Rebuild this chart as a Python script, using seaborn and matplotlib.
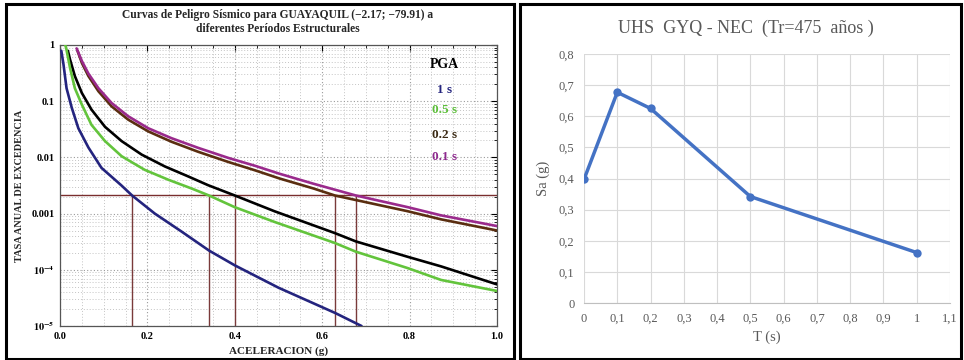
import numpy as np
import pandas as pd
import matplotlib
matplotlib.use("Agg")
import matplotlib.pyplot as plt
import matplotlib.ticker as mticker
from matplotlib.patches import Rectangle
import seaborn as sns

# ---------------- data: hazard curves (left) ----------------
x_pga = [0.018, 0.023, 0.034, 0.05, 0.072, 0.103, 0.141, 0.187, 0.24, 0.293, 0.339, 0.40, 0.491, 0.629, 0.677, 0.796, 0.872, 1.0]
y_pga = [0.79, 0.55, 0.28, 0.14, 0.071, 0.035, 0.0195, 0.0112, 0.0069, 0.0046, 0.0032, 0.0021, 0.0011, 4.5e-4, 3.2e-4, 1.7e-4, 1.15e-4, 5.5e-5]

x_1s = [0.003, 0.008, 0.015, 0.027, 0.042, 0.065, 0.095, 0.14, 0.165, 0.217, 0.278, 0.341, 0.40, 0.50, 0.63, 0.69]
y_1s = [0.79, 0.45, 0.17, 0.076, 0.033, 0.015, 0.0065, 0.0032, 0.0021, 0.001, 4.8e-4, 2.2e-4, 1.2e-4, 4.8e-5, 1.7e-5, 1.0e-5]

x_05s = [0.012, 0.014, 0.023, 0.034, 0.05, 0.072, 0.103, 0.141, 0.194, 0.248, 0.301, 0.341, 0.40, 0.491, 0.629, 0.677, 0.796, 0.872, 1.0]
y_05s = [1.0, 0.89, 0.39, 0.17, 0.087, 0.038, 0.0195, 0.0105, 0.006, 0.004, 0.0028, 0.0021, 0.0013, 7.1e-4, 3.0e-4, 2.1e-4, 1.07e-4, 6.6e-5, 4.2e-5]

x_02s = [0.04, 0.05, 0.065, 0.088, 0.118, 0.156, 0.202, 0.255, 0.316, 0.385, 0.446, 0.503, 0.58, 0.629, 0.796, 0.872, 1.0]
y_02s = [0.79, 0.48, 0.28, 0.15, 0.081, 0.047, 0.029, 0.019, 0.0126, 0.0083, 0.0059, 0.0042, 0.0028, 0.0021, 0.0011, 7.9e-4, 5.0e-4]

x_01s = [0.038, 0.05, 0.065, 0.088, 0.118, 0.156, 0.202, 0.255, 0.316, 0.385, 0.446, 0.503, 0.58, 0.677, 0.796, 0.872, 1.0]
y_01s = [0.87, 0.52, 0.31, 0.17, 0.093, 0.054, 0.033, 0.022, 0.0148, 0.0098, 0.0071, 0.0051, 0.0034, 0.0021, 0.0013, 9.3e-4, 6.0e-4]

curve_names = ["PGA", "1 s", "0.5 s", "0.2 s", "0.1 s"]
curve_colors = ["#000000", "#24247e", "#63c43c", "#5a2e10", "#9a2a8c"]
label_colors = ["#000000", "#24247e", "#5cbf3a", "#3b2a14", "#8e2a8e"]

rate_475 = 0.0021
drop_x = [0.165, 0.341, 0.40, 0.629, 0.677]

# ---------------- data: UHS (right) ----------------
T_vals = [0.0, 0.1, 0.2, 0.5, 1.0]
Sa_vals = [0.397, 0.677, 0.625, 0.342, 0.162]

# ---------------- build ----------------
sns.set_theme(style="white")
plt.rcParams["font.family"] = ["Liberation Serif", "DejaVu Serif"]
plt.rcParams["mathtext.fontset"] = "stix"

W, H = 964, 360
fig = plt.figure(figsize=(W / 100, H / 100), dpi=100)
fig.patch.set_facecolor("white")

def fx(px):
    return px / W

def fy(py):
    return 1 - py / H

# panel frames
for (x0, y0, x1, y1) in [(6, 4, 514, 359), (520, 4, 961, 359)]:
    fig.add_artist(Rectangle((fx(x0), fy(y1)), fx(x1) - fx(x0), fy(y0) - fy(y1),
                             transform=fig.transFigure, fill=False,
                             edgecolor="black", linewidth=2.2))

# ---------- left panel ----------
axL = fig.add_axes([fx(60), fy(326), fx(497) - fx(60), fy(45) - fy(326)])
frames = []
for name, xs, ys in zip(curve_names,
                        [x_pga, x_1s, x_05s, x_02s, x_01s],
                        [y_pga, y_1s, y_05s, y_02s, y_01s]):
    frames.append(pd.DataFrame({"acc": xs, "rate": ys, "curve": name}))
df = pd.concat(frames, ignore_index=True)

axL.set_yscale("log")
axL.set_xlim(0, 1.0)
axL.set_ylim(1e-5, 1)

# grid
axL.xaxis.set_major_locator(mticker.MultipleLocator(0.2))
axL.xaxis.set_minor_locator(mticker.MultipleLocator(0.05))
axL.yaxis.set_major_locator(mticker.LogLocator(base=10, numticks=10))
axL.yaxis.set_minor_locator(mticker.LogLocator(base=10, subs=np.arange(2, 10), numticks=10))
axL.grid(which="major", color="#9a9a9a", linestyle=(0, (1, 2)), linewidth=0.8)
axL.grid(which="minor", color="#c4c4c4", linestyle=(0, (1, 2)), linewidth=0.7)
axL.set_axisbelow(True)

# 475-year return period lines
axL.axhline(rate_475, color="#7a2e2e", linewidth=1.0, zorder=2)
axL.vlines(drop_x, 1e-5, rate_475, color="#7a3a3a", linewidth=1.0, zorder=2)

sns.lineplot(data=df, x="acc", y="rate", hue="curve", hue_order=curve_names,
             palette=dict(zip(curve_names, curve_colors)), estimator=None,
             sort=False, linewidth=1.9, legend=False, ax=axL, zorder=3)

axL.set_xlabel("ACELERACION (g)", fontsize=8, fontweight="bold", labelpad=4)
axL.set_ylabel("TASA ANUAL DE EXCEDENCIA", fontsize=7.4, fontweight="bold", labelpad=5)
axL.xaxis.set_major_formatter(mticker.FormatStrFormatter("%.1f"))
ylab = {1: "1", 0.1: "0.1", 0.01: "0.01", 0.001: "0.001",
        1e-4: r"$\mathbf{10^{-4}}$", 1e-5: r"$\mathbf{10^{-5}}$"}
axL.set_yticks(list(ylab.keys()))
axL.set_yticklabels(list(ylab.values()))
for lab in axL.get_xticklabels() + axL.get_yticklabels():
    lab.set_fontweight("bold")
    lab.set_fontsize(7.5)
axL.tick_params(which="both", direction="in", top=True, right=True, colors="black")
axL.tick_params(which="major", length=4, width=0.8, pad=4)
axL.tick_params(which="minor", length=2, width=0.6)
for s in axL.spines.values():
    s.set_color("#555555")
    s.set_linewidth(0.9)

# legend text
for i, (name, col) in enumerate(zip(curve_names, label_colors)):
    axL.text(0.88, [0.93, 0.84, 0.77, 0.68, 0.60][i], name, transform=axL.transAxes,
             ha="center", va="center", color=col, fontsize=10 if i == 0 else 9.5,
             fontweight="bold")

fig.text(fx(278), fy(15), "Curvas de Peligro Sísmico para GUAYAQUIL (\u22122.17; \u221279.91) a",
         ha="center", va="center", fontsize=8.3, fontweight="bold")
fig.text(fx(278), fy(29), "diferentes Períodos Estructurales",
         ha="center", va="center", fontsize=8.3, fontweight="bold")

# ---------- right panel ----------
gray = "#595959"
axR = fig.add_axes([fx(584), fy(303), fx(950) - fx(584), fy(54) - fy(303)])
sns.lineplot(x=T_vals, y=Sa_vals, marker="o", color="#4472C4", linewidth=2.5,
             markersize=6, markeredgewidth=0, ax=axR)
axR.set_xlim(0, 1.1)
axR.set_ylim(0, 0.8)
axR.xaxis.set_major_locator(mticker.MultipleLocator(0.1))
axR.yaxis.set_major_locator(mticker.MultipleLocator(0.1))
comma = mticker.FuncFormatter(lambda v, p: ("%g" % round(v, 2)).replace(".", ","))
axR.xaxis.set_major_formatter(comma)
axR.yaxis.set_major_formatter(comma)
axR.grid(True, color="#d9d9d9", linewidth=0.8)
axR.set_axisbelow(True)
for k in ["top", "right", "left"]:
    axR.spines[k].set_visible(False)
axR.spines["bottom"].set_color("#bfbfbf")
axR.spines["bottom"].set_linewidth(0.8)
axR.tick_params(length=0, labelsize=9, colors=gray, pad=7)
axR.set_xlabel("T (s)", fontsize=10.5, color=gray, labelpad=4)
axR.set_ylabel("Sa (g)", fontsize=10.5, color=gray, labelpad=6)
fig.text(fx(746), fy(28), "UHS  GYQ - NEC  (Tr=475  años )", ha="center", va="center",
         fontsize=13, color=gray)

fig.savefig("out.png", dpi=100, facecolor="white")
